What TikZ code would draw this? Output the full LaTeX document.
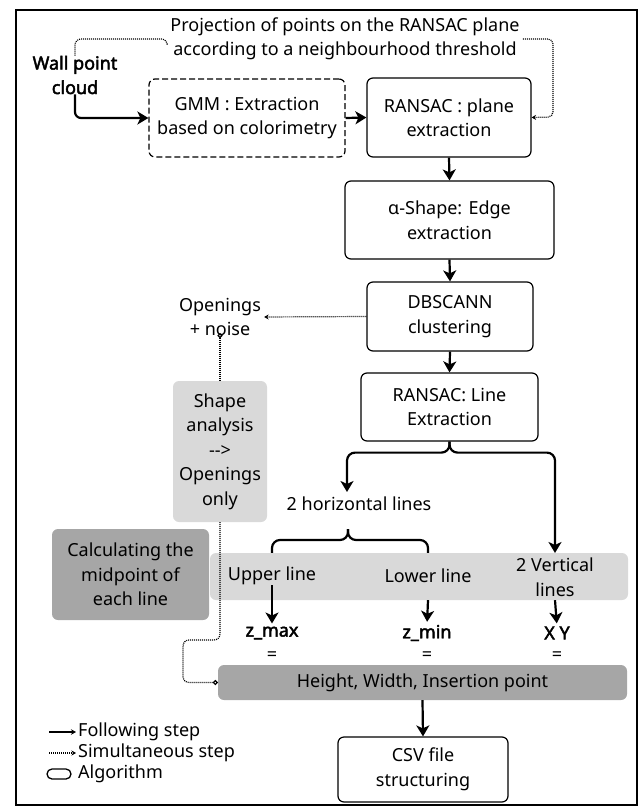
\documentclass[tikz,border=0pt]{standalone}
\usepackage{fontspec}
\setmainfont{Noto Sans}
\newfontfamily\boldnoto{Noto Sans}[FakeBold=2.5]
\usetikzlibrary{arrows.meta}
\definecolor{lightgrey}{RGB}{217,217,217}
\definecolor{darkgrey}{RGB}{166,166,166}

\begin{document}
\begin{tikzpicture}[x=1pt,y=-1pt,
        algo/.style={draw,line width=1.2pt,rounded corners=6pt,align=center,inner sep=0pt},
        greybox/.style={fill=#1,rounded corners=6pt,align=center,inner sep=0pt},
        lbl/.style={align=center,inner sep=0pt},
        bold/.style={lbl,font=\boldnoto},
        flow/.style={line width=2.2pt,-{Stealth[length=11pt,width=13pt,inset=3pt]}},
        simul/.style={line width=1.2pt,dash pattern=on 1pt off 1pt,-{Stealth[length=4.5pt,width=5pt]}},
        link/.style={line width=1.2pt,dash pattern=on 1pt off 1pt,rounded corners=6pt}]
        \useasboundingbox (0,0) rectangle (640,806);
        \fontsize{18}{24.5}\selectfont
        \draw[line width=1.3pt] (16,10) rectangle (637,805);

        % backgrounds
        \node[greybox=lightgrey,minimum width=418pt,minimum height=47pt] (band) at (419,576.5) {};
        \node[greybox=lightgrey,minimum width=94pt,minimum height=141pt] (shape) at (220,451.5) {Shape\\analysis\\-\kern0pt-\kern0pt>\\Openings\\only};
        \node[greybox=darkgrey,minimum width=157pt,minimum height=91pt] (calc) at (130.5,574.5) {Calculating the\\midpoint of\\each line};
        \node[greybox=darkgrey,minimum width=409pt,minimum height=35pt] (height) at (422.5,682.5) {Height, Width, Insertion point};

        % algorithms
        \node[algo,dash pattern=on 6pt off 3pt,minimum width=196pt,minimum height=78pt] (gmm) at (247,118) {GMM : Extraction\\based on colorimetry};
        \node[algo,minimum width=164pt,minimum height=79pt] (rp) at (449,117.5) {RANSAC : plane\\extraction};
        \node[algo,minimum width=209pt,minimum height=78pt] (alpha) at (449.5,220) {α-Shape: Edge\\extraction};
        \node[algo,minimum width=166pt,minimum height=69pt] (db) at (450,316.5) {DBSCANN\\clustering};
        \node[algo,minimum width=177pt,minimum height=68pt] (rl) at (449.5,407) {RANSAC: Line\\Extraction};
        \node[algo,minimum width=170pt,minimum height=65pt] (csv) at (423,769.5) {CSV file\\structuring};

        % labels
        \node[bold] (wall) at (75,75) {Wall point\\cloud};
        \node[lbl] (title) at (345,39) {Projection of points on the RANSAC plane\\according to a neighbourhood threshold};
        \node[lbl] (open) at (220,317) {Openings\\+ noise};
        \node[lbl] (hz) at (359,504) {2 horizontal lines};
        \node[lbl] (up) at (272,576) {Upper line};
        \node[lbl] (low) at (428,576) {Lower line};
        \node[lbl] (vert) at (555,577) {2 Vertical\\lines};
        \node[bold] (zmax) at (272,633) {z\_max};
        \node[bold] (zmin) at (427,633) {z\_min};
        \node[bold] (xy) at (557,633) {X Y};
        \node[lbl] (eqa) at (272,656) {=};
        \node[lbl] (eqb) at (427,656) {=};
        \node[lbl] (eqc) at (557,656) {=};

        % following steps
        \draw[flow,rounded corners=6pt] (wall.south) |- (gmm.west);
        \draw[flow] (gmm.east) -- (rp.west);
        \draw[flow] (rp.south) -- (alpha.north);
        \draw[flow] (alpha.south) -- (db.north);
        \draw[flow] (db.south) -- (rl.north);
        \coordinate (hzTip) at (347,492);
        \coordinate (vertTip) at (555,553);
        \draw[flow,rounded corners=8pt] (rl.south) -- ++(0,11) -| (hzTip);
        \draw[flow,rounded corners=8pt] (rl.south) -- ++(0,11) -| (vertTip);
        \coordinate (brace) at (348,529);
        \draw[line width=2.2pt,rounded corners=8pt] (brace) -- ++(0,11) -| (up |- band.north);
        \draw[line width=2.2pt,rounded corners=8pt] (brace) -- ++(0,11) -| (low |- band.north);
        \draw[flow,shorten >=3pt] (up.south) -- (zmax.north);
        \draw[flow,shorten >=3pt] (low |- band.south) -- (zmin.north);
        \draw[flow,shorten >=3pt] (vert |- band.south) -- (xy.north);
        \draw[flow] (height.south) -- (csv.north);

        % simultaneous steps
        \coordinate (loopR) at (553,117);
        \draw[link] (wall.north) |- ([xshift=-3pt]title.west) -- ++(0,4);
        \draw[simul,rounded corners=5pt] ([xshift=3pt]title.east) -| (loopR) -- (rp.east);
        \draw[simul,shorten >=3pt] (db.west) -- (open.east);
        \draw[link,{Circle[open,length=5pt,width=5pt]}-] ([yshift=3pt]open.south) -- (shape.north);
        \coordinate (bend) at (183,640);
        \draw[link,-{Circle[open,length=5pt,width=5pt]}] (shape.south) |- (bend) |- (height.west);

        % legend
        \node[anchor=west,inner sep=0pt] (lgFollow) at (78,732) {Following step};
        \node[anchor=west,inner sep=0pt] (lgSimul) at (78,753) {Simultaneous step};
        \node[anchor=west,inner sep=0pt] (lgAlgo) at (78,774) {Algorithm};
        \coordinate (lgA) at (49,732);
        \coordinate (lgB) at (49,753);
        \draw[line width=1.3pt,-{Stealth[length=5pt,width=5.5pt]},shorten >=2pt] (lgA) -- (lgFollow.west);
        \draw[simul,shorten >=2pt] (lgB) -- (lgSimul.west);
        \draw[line width=1.3pt,rounded corners=5pt] (47,769) rectangle (71,779);
\end{tikzpicture}
\end{document}
